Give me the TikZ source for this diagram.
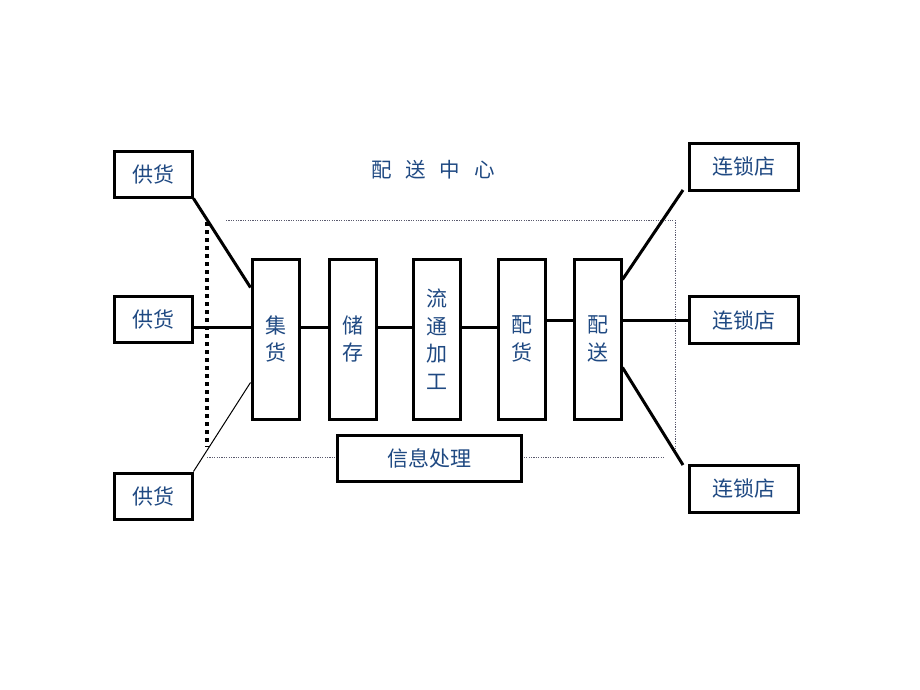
\documentclass[tikz,border=0pt]{standalone}
\usepackage{fontspec}
\usetikzlibrary{backgrounds}
\newfontfamily\cjk{Noto Sans CJK SC}
\definecolor{txtblue}{RGB}{31,73,130}
\definecolor{dotgray}{RGB}{90,90,110}
\begin{document}
\begin{tikzpicture}[x=1pt,y=-1pt,
  box/.style={draw=black,line width=3pt,fill=white,inner sep=0pt,text=txtblue,
    font=\cjk\fontsize{21}{27.5}\selectfont,align=center},
  sbox/.style={box,minimum width=78pt,minimum height=46pt},
  cbox/.style={box,minimum width=109pt,minimum height=47pt},
  pbox/.style={box,minimum width=47pt,minimum height=160pt},
  conn/.style={line width=3pt},
  thinconn/.style={line width=1pt},
  tdot/.style={line width=0.8pt,dotgray,dash pattern=on 1.2pt off 1.2pt},
  bdot/.style={line width=4pt,dash pattern=on 4pt off 4pt}]
\useasboundingbox (0,0) rectangle (920,690);
% title
\node[text=txtblue,font=\cjk\fontsize{20.5}{24}\selectfont] (title) at (433,170) {配\hspace{0.68em}送\hspace{0.68em}中\hspace{0.68em}心};
% supply boxes
\node[sbox] (g1) at (153,174) {供货};
\node[sbox] (g2) at (153,319) {供货};
\node[sbox] (g3) at (153,496) {供货};
% store boxes
\node[cbox] (s1) at (743.5,166.5) {连锁店};
\node[cbox] (s2) at (743.5,320) {连锁店};
\node[cbox] (s3) at (743.5,488.5) {连锁店};
% process boxes
\node[pbox] (p1) at (275.5,339) {集\\货};
\node[pbox] (p2) at (352.5,339) {储\\存};
\node[pbox] (p3) at (436.5,339) {流\\通\\加\\工};
\node[pbox] (p4) at (521.5,339) {配\\货};
\node[pbox] (p5) at (597.5,339) {配\\送};
\node[box,minimum width=184pt,minimum height=46pt] (info) at (429,458) {信息处理};
\begin{scope}[on background layer]
% dotted frame
\coordinate (ftl) at (226,220);
\coordinate (ftr) at (673,220);
\coordinate (frt) at (675,220);
\coordinate (frb) at (675,452);
\coordinate (fbl) at (207,457);
\coordinate (fbr) at (665,457);
\coordinate (lt) at (207,222);
\coordinate (lb) at (207,447);
\draw[tdot] (ftl) -- (ftr);
\draw[tdot] (frt) -- (frb);
\draw[tdot] (fbl) -- (fbr);
\draw[bdot] (lt) -- (lb);
% connectors
\draw[conn] (g1.south east) -- ([yshift=-30pt]p1.north west);
\draw[conn] (g2.east |- 0,327) -- (p1.west |- 0,327);
\draw[thinconn] (g3.north east) -- ([yshift=38pt]p1.south west);
\draw[conn] (p1.east |- 0,327) -- (p2.west |- 0,327);
\draw[conn] (p2.east |- 0,327) -- (p3.west |- 0,327);
\draw[conn] (p3.east |- 0,327) -- (p4.west |- 0,327);
\draw[conn] (p4.east |- 0,320) -- (p5.west |- 0,320);
\coordinate (c1) at (683,190);
\coordinate (c3) at (683,465);
\draw[conn] ([yshift=-22pt]p5.north east) -- (c1);
\draw[conn] (p5.east |- s2.west) -- (s2.west);
\draw[conn] ([yshift=-110pt]p5.north east) -- (c3);
\end{scope}
\end{tikzpicture}
\end{document}
